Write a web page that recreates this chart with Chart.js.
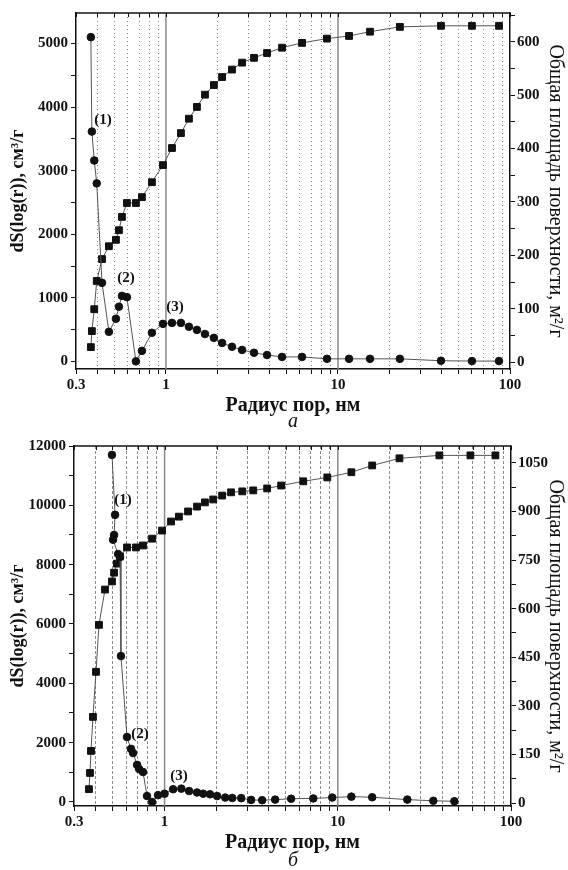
<!DOCTYPE html>
<html>
<head>
<meta charset="utf-8">
<script src="https://cdn.jsdelivr.net/npm/chart.js@4.4.0/dist/chart.umd.min.js"></script>
<style>
  body { margin: 0; background: #fff; width: 568px; height: 870px; position: relative; overflow: hidden; font-family: "Liberation Serif", serif; }
  canvas { position: absolute; left: 0; }
  #chartA { top: 0; }
  #chartB { top: 432px; }
  .cap { position: absolute; left: 76px; width: 434px; text-align: center; font-style: italic; font-size: 20px; line-height: 24px; color: #111; }
</style>
</head>
<body>
<canvas id="chartA" width="568" height="418"></canvas>
<canvas id="chartB" width="568" height="423"></canvas>
<div class="cap" style="top:408px">а</div>
<div class="cap" style="top:847px">б</div>
<script>
// pore radius axis (nm)
const xTicks = [0.3, 0.4, 0.5, 0.6, 0.7, 0.8, 0.9, 1, 2, 3, 4, 5, 6, 7, 8, 9, 10, 20, 30, 40, 50, 60, 70, 80, 90, 100];
const xLabels = [0.3, 1, 10, 100];

// chart а
const radiusA = [0.366, 0.371, 0.383, 0.396, 0.425, 0.466, 0.512, 0.533, 0.555, 0.593, 0.669, 0.725, 0.829, 0.961, 1.084, 1.222, 1.36, 1.514, 1.686, 1.90, 2.12, 2.42, 2.77, 3.25, 3.87, 4.73, 6.18, 8.63, 11.6, 15.35, 22.9, 39.7, 60.1, 86.3];
const dsA = [5100, 3615, 3160, 2800, 1235, 465, 670, 860, 1030, 1010, 0, 165, 450, 590, 605, 605, 545, 495, 430, 370, 290, 230, 180, 135, 100, 70, 70, 40, 40, 40, 40, 10, 5, 5];
const areaA = [28, 58, 99, 152, 193, 217, 229, 247, 272, 298, 298, 309, 337, 369, 401, 429, 456, 478, 501, 519, 534, 548, 561, 570, 579, 589, 598, 606, 611, 619, 628, 630, 630, 630];
const leftTicksA = [0, 500, 1000, 1500, 2000, 2500, 3000, 3500, 4000, 4500, 5000];
const rightTicksA = [0, 50, 100, 150, 200, 250, 300, 350, 400, 450, 500, 550, 600, 650];
const notesA = [
  { text: '(1)', r: 0.43, v: 3800 },
  { text: '(2)', r: 0.585, v: 1315 },
  { text: '(3)', r: 1.128, v: 860 }
];

// chart б
const radiusB1 = [0.497, 0.518, 0.511, 0.504, 0.539, 0.553, 0.56, 0.607, 0.64, 0.658, 0.694, 0.713, 0.751, 0.792, 0.847, 0.917, 1.0, 1.12, 1.25, 1.386, 1.54, 1.67, 1.83, 2.01, 2.24, 2.46, 2.77, 3.16, 3.66, 4.35, 5.38, 7.22, 9.29, 11.98, 15.8, 25.2, 35.6, 47.1];
const dsB = [11700, 9680, 9000, 8840, 8360, 8260, 4920, 2190, 1790, 1650, 1250, 1110, 1010, 200, 0, 230, 280, 430, 450, 370, 320, 280, 260, 200, 150, 135, 130, 70, 60, 80, 110, 120, 150, 180, 160, 80, 40, 25];
const radiusB2 = [0.366, 0.371, 0.376, 0.386, 0.402, 0.418, 0.453, 0.497, 0.511, 0.531, 0.553, 0.607, 0.684, 0.751, 0.847, 0.967, 1.09, 1.21, 1.367, 1.54, 1.71, 1.91, 2.15, 2.42, 2.81, 3.25, 3.91, 4.71, 6.32, 8.70, 11.98, 15.8, 22.7, 38.6, 58.3, 81.3];
const areaB = [43, 93, 161, 266, 405, 550, 659, 684, 711, 739, 761, 789, 789, 795, 816, 841, 869, 884, 900, 915, 928, 937, 949, 959, 962, 965, 971, 980, 993, 1005, 1021, 1042, 1064, 1073, 1073, 1073];
const leftTicksB = [0, 1000, 2000, 3000, 4000, 5000, 6000, 7000, 8000, 9000, 10000, 11000, 12000];
const rightTicksB = [0, 75, 150, 225, 300, 375, 450, 525, 600, 675, 750, 825, 900, 975, 1050];
const notesB = [
  { text: '(1)', r: 0.575, v: 10185 },
  { text: '(2)', r: 0.722, v: 2290 },
  { text: '(3)', r: 1.213, v: 880 }
];

Chart.defaults.font.family = '"Liberation Serif", serif';
Chart.defaults.color = '#111';

const tickFont = { size: 15, weight: 'bold' };

// top border of the frame with its small ticks + solid lines at 1 and 10
const frame = {
  id: 'frame',
  beforeDatasetsDraw(chart) {
    const { ctx, chartArea: a, scales: { x } } = chart;
    ctx.save();
    ctx.strokeStyle = '#8a8a8a';
    ctx.lineWidth = 1.5;
    [1, 10].forEach(v => {
      const px = x.getPixelForValue(v);
      ctx.beginPath();
      ctx.moveTo(px, a.top);
      ctx.lineTo(px, a.bottom);
      ctx.stroke();
    });
    ctx.strokeStyle = '#111';
    ctx.beginPath();
    ctx.moveTo(a.left, a.top);
    ctx.lineTo(a.right, a.top);
    ctx.stroke();
    ctx.lineWidth = 1;
    xTicks.forEach(v => {
      const px = Math.round(x.getPixelForValue(v)) + 0.5;
      ctx.beginPath();
      ctx.moveTo(px, a.top);
      ctx.lineTo(px, a.top + 4);
      ctx.stroke();
    });
    ctx.restore();
  }
};

// peak labels (1) (2) (3)
const notes = {
  id: 'notes',
  afterDatasetsDraw(chart, args, opts) {
    const { ctx, scales: { x, y } } = chart;
    ctx.save();
    ctx.font = 'bold 15px "Liberation Serif"';
    ctx.fillStyle = '#111';
    ctx.textAlign = 'center';
    ctx.textBaseline = 'middle';
    opts.items.forEach(n => ctx.fillText(n.text, x.getPixelForValue(n.r), y.getPixelForValue(n.v)));
    ctx.restore();
  }
};

function makeChart(id, o) {
  return new Chart(document.getElementById(id), {
    type: 'line',
    data: {
      datasets: [
        {
          data: o.r1.map((r, i) => ({ x: r, y: o.ds[i] })),
          yAxisID: 'y',
          borderColor: '#555',
          borderWidth: 1,
          pointStyle: 'circle',
          pointRadius: 3.8,
          pointBackgroundColor: '#111',
          pointBorderColor: '#111',
          pointBorderWidth: 1
        },
        {
          data: o.r2.map((r, i) => ({ x: r, y: o.area[i] })),
          yAxisID: 'y2',
          borderColor: '#555',
          borderWidth: 1,
          pointStyle: 'rect',
          pointRadius: 4.8,
          pointBackgroundColor: '#111',
          pointBorderColor: '#111',
          pointBorderWidth: 1
        }
      ]
    },
    options: {
      responsive: false,
      animation: false,
      devicePixelRatio: 1,
      layout: { padding: { top: o.top, left: 0, right: 0, bottom: 0 } },
      plugins: { legend: { display: false }, tooltip: { enabled: false }, notes: { items: o.notes } },
      scales: {
        x: {
          type: 'logarithmic',
          position: 'bottom',
          min: 0.3,
          max: 100,
          afterBuildTicks: s => { s.ticks = xTicks.map(v => ({ value: v })); },
          afterFit: s => { s.height = 49; },
          ticks: {
            autoSkip: false,
            maxRotation: 0,
            padding: 2,
            font: tickFont,
            callback: v => xLabels.includes(v) ? String(v) : ''
          },
          grid: {
            color: c => (c.tick && [0.3, 1, 10, 100].includes(c.tick.value)) ? 'rgba(0,0,0,0)' : '#8c8c8c',
            lineWidth: 1,
            tickLength: 5,
            tickColor: '#111',
            tickWidth: 1
          },
          border: { color: '#111', width: 1.5, dash: o.dash },
          title: { display: true, text: 'Радиус пор, нм', font: { size: 20, weight: 'bold' }, padding: { top: 0, bottom: 0 } }
        },
        y: {
          position: 'left',
          min: o.yMin,
          max: o.yMax,
          afterBuildTicks: s => { s.ticks = o.leftTicks.map(v => ({ value: v })); },
          afterFit: s => { s.width = o.leftW; },
          ticks: {
            autoSkip: false,
            padding: 3,
            font: tickFont,
            callback: v => v % o.leftStep === 0 ? String(v) : ''
          },
          grid: { drawOnChartArea: false, tickLength: 5, tickColor: '#111', tickWidth: 1 },
          border: { color: '#111', width: 1.5 },
          title: { display: true, text: 'dS(log(r)), см³/г', font: { size: 18, weight: 'bold' }, padding: { top: 8, bottom: 0 } }
        },
        y2: {
          position: 'right',
          min: o.y2Min,
          max: o.y2Max,
          afterBuildTicks: s => { s.ticks = o.rightTicks.map(v => ({ value: v })); },
          afterFit: s => { s.width = 568 - o.rightEdge; },
          ticks: {
            autoSkip: false,
            padding: 2,
            font: tickFont,
            callback: v => v % o.rightStep === 0 ? String(v) : ''
          },
          grid: { drawOnChartArea: false, tickLength: 5, tickColor: '#111', tickWidth: 1 },
          border: { color: '#111', width: 1.5 },
          title: { display: true, text: 'Общая площадь поверхности, м²/г', font: { size: 20 }, padding: { top: 1, bottom: 0 } }
        }
      }
    },
    plugins: [frame, notes]
  });
}

makeChart('chartA', {
  r1: radiusA, ds: dsA, r2: radiusA, area: areaA,
  leftTicks: leftTicksA, rightTicks: rightTicksA, leftStep: 1000, rightStep: 100,
  yMin: -120, yMax: 5480, y2Min: -13, y2Max: 654,
  top: 13, leftW: 76, rightEdge: 510, dash: [1, 3], notes: notesA
});

makeChart('chartB', {
  r1: radiusB1, ds: dsB, r2: radiusB2, area: areaB,
  leftTicks: leftTicksB, rightTicks: rightTicksB, leftStep: 2000, rightStep: 150,
  yMin: -135, yMax: 12000, y2Min: -9, y2Max: 1102,
  top: 14, leftW: 74, rightEdge: 511, dash: [3, 2], notes: notesB
});
</script>
</body>
</html>
